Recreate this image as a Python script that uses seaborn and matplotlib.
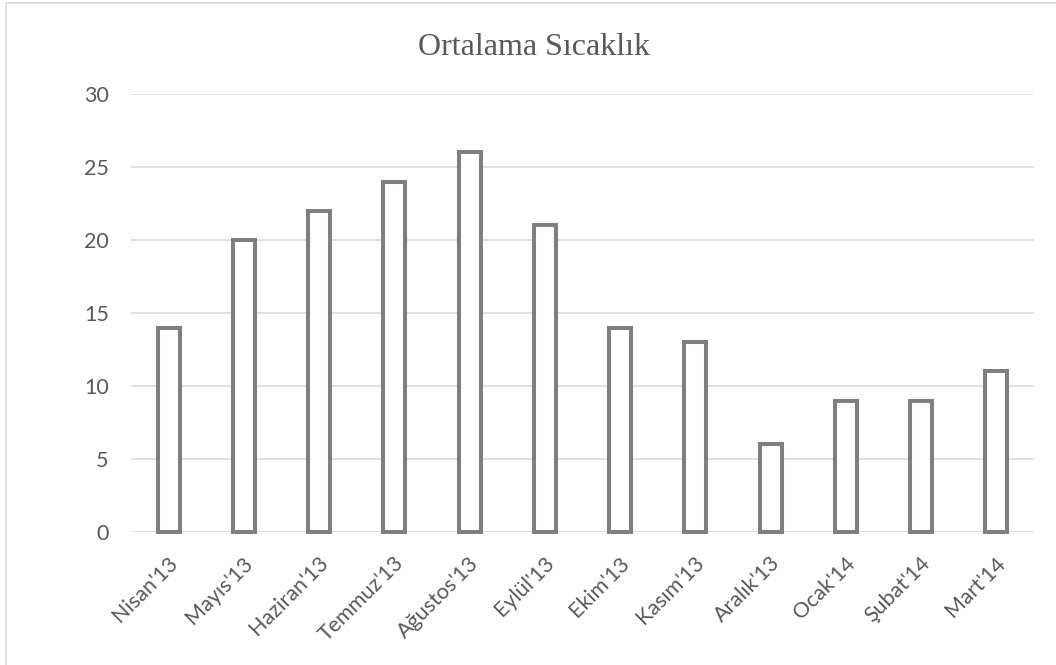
import matplotlib
matplotlib.use("Agg")
import matplotlib.pyplot as plt
import matplotlib.patches as mpatches
import matplotlib.transforms as mtransforms
import seaborn as sns
import pandas as pd

months = ["Nisan'13", "Mayıs'13", "Haziran'13", "Temmuz'13", "Ağustos'13", "Eylül'13",
          "Ekim'13", "Kasım'13", "Aralık'13", "Ocak'14", "Şubat'14", "Mart'14"]
temps = [14, 20, 22, 24, 26, 21, 14, 13, 6, 9, 9, 11]
y_ticks = [0, 5, 10, 15, 20, 25, 30]
title = "Ortalama Sıcaklık"

W, H = 1056, 665
sns.set_theme(style="white")
plt.rcParams["font.family"] = ["Lato", "DejaVu Sans"]

fig = plt.figure(figsize=(W / 100, H / 100), dpi=100)
fig.patch.set_facecolor("white")
ax = fig.add_axes([131 / W, 1 - 532 / H, (1034 - 131) / W, (532 - 94) / H])

df = pd.DataFrame({"ay": months, "sicaklik": temps})
sns.barplot(data=df, x="ay", y="sicaklik", ax=ax, color="white",
            edgecolor="#7f7f7f", linewidth=2.9, width=0.29, saturation=1)
for p in ax.patches:
    p.set_clip_on(False)
    p.set_zorder(3)

ax.set_ylim(0, 30)
ax.set_xlim(-0.5, len(months) - 0.5)
ax.set_yticks(y_ticks)
ax.yaxis.grid(True, color="#d9d9d9", linewidth=1.1)
ax.set_axisbelow(True)
for s in ax.spines.values():
    s.set_visible(False)
ax.set_xlabel("")
ax.set_ylabel("")
ax.tick_params(axis="y", length=0, pad=16, labelsize=15.5, labelcolor="#595959")
ax.tick_params(axis="x", length=0, pad=15, labelsize=15.5, labelcolor="#595959")
shift = mtransforms.ScaledTranslation(-1 / 100, 0, fig.dpi_scale_trans)
for lab in ax.get_xticklabels():
    lab.set_rotation(45)
    lab.set_ha("right")
    lab.set_rotation_mode("anchor")
    lab.set_transform(lab.get_transform() + shift)

fig.text(534 / W, 1 - 55 / H, title, ha="center", va="baseline",
         family=["Liberation Serif"], fontsize=23, color="#595959")

# outer chart frame
fig.add_artist(mpatches.Rectangle((6 / W, -0.05), 1.1, 1 - 3 / H + 0.05,
                                  transform=fig.transFigure, fill=False,
                                  edgecolor="#d9d9d9", linewidth=1.2, clip_on=False))

fig.savefig("out.png", dpi=100, facecolor="white")
